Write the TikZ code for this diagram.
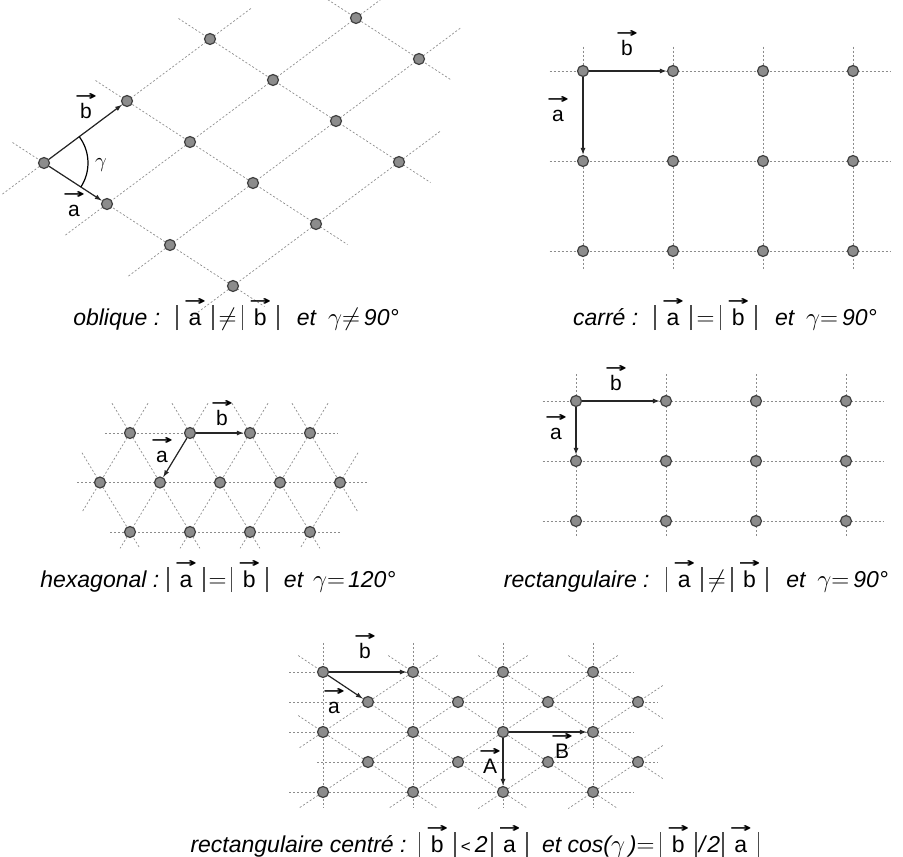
\documentclass[tikz,border=0pt]{standalone}
\usepackage{amsmath}
\usepackage{fontspec}
\setmainfont{Liberation Sans}
\newfontfamily\arrowfont{DejaVu Sans}
\usetikzlibrary{positioning,arrows.meta}

\newcommand{\vecarrow}{\raisebox{-2pt}{\scalebox{2}[1]{\fontsize{13}{13}\arrowfont\bfseries →}}}
\newcommand{\vecl}[1]{\ensuremath{\overset{\vecarrow}{\mbox{\upshape\vphantom{b}#1}}}}
\newcommand{\normbar}{\textcolor{black!70}{\vrule width 1.8pt height 20pt depth 5pt}}
\newcommand{\norml}[1]{\normbar\kern6pt\vecl{#1}\kern6pt\normbar}
\newcommand{\relsym}[1]{{\fontsize{30}{30}\selectfont$#1$}}

\begin{document}
\begin{tikzpicture}[x=1pt, y=-1pt,
  site/.style={circle, draw=black!75, fill=black!45, line width=1.2pt, minimum size=11pt, inner sep=0pt},
  latline/.style={draw=black!45, dash pattern=on 2pt off 2pt, line width=0.7pt},
  vecarr/.style={-{Latex[length=7pt,width=5pt]}, line width=1.2pt, draw=black!85},
  lab/.style={font=\fontsize{21}{24}\selectfont, inner sep=0pt},
  capt/.style={font=\fontsize{23}{26}\selectfont\itshape, inner sep=0pt}]
\useasboundingbox (0,0) rectangle (903,857);

% oblique
\begin{scope}[shift={(44,163)}, x={(63pt,-41pt)}, y={(83pt,62pt)}]
  \foreach \j in {0,1,2} \draw[latline] (-0.5,\j) -- (3.5,\j);
  \draw[latline] (0.5,3) -- (2.5,3);
  \foreach \i/\t in {0/2.5,1/3.5,2/3.5,3/2.5} \draw[latline] (\i,-0.5) -- (\i,\t);
  \foreach \i/\j in {0/0,1/0,2/0,3/0,0/1,1/1,2/1,3/1,0/2,1/2,2/2,3/2,1/3,2/3}
    \node[site] (ob-\i-\j) at (\i,\j) {};
\end{scope}
\draw[vecarr] (ob-0-0) -- (ob-1-0);
\draw[vecarr] (ob-0-0) -- (ob-0-1);
\draw[line width=1.2pt] (ob-0-0.center) ++(-37:44) arc (-37:33:44);
\node[lab] (ob-la) at (74,203) {\vecl{a}};
\node[lab] (ob-lb) at (86,105) {\vecl{b}};
\node[lab] (ob-lg) at (101,165) {$\gamma$};
\node[capt] (cap-ob) at (236,313) {oblique :\hspace{16pt}\norml{a}\hspace{5pt}\relsym{\neq}\hspace{5pt}\norml{b}\hspace{18pt}et\hspace{12pt}$\gamma$\relsym{\neq}\hspace{4pt}90°};

% carre
\begin{scope}[shift={(583,71)}, x={(90pt,0pt)}, y={(0pt,-90pt)}]
  \foreach \j in {0,1,2} \draw[latline] (-0.37,\j) -- (3.42,\j);
  \foreach \i in {0,...,3} \draw[latline] (\i,-0.27) -- (\i,2.2);
  \foreach \i in {0,...,3} \foreach \j in {0,1,2}
    \node[site] (sq-\i-\j) at (\i,\j) {};
\end{scope}
\draw[vecarr] (sq-0-0) -- (sq-1-0);
\draw[vecarr] (sq-0-0) -- (sq-0-1);
\node[lab] (sq-la) at (558,108) {\vecl{a}};
\node[lab] (sq-lb) at (627,42) {\vecl{b}};
\node[capt] (cap-sq) at (725,313) {carré :\hspace{16pt}\norml{a}\hspace{5pt}\relsym{=}\hspace{5pt}\norml{b}\hspace{18pt}et\hspace{12pt}$\gamma$\relsym{=}\hspace{4pt}90°};

% hexagonal
\begin{scope}[shift={(130,433)}, x={(60pt,0pt)}, y={(0pt,-49.5pt)}]
  \draw[latline] (-0.42,0) -- (3.47,0);
  \draw[latline] (-0.88,1) -- (3.97,1);
  \draw[latline] (-0.33,2) -- (3.53,2);
  \foreach \c/\ta/\tb in {-1/0.4/2.33, 0/-0.6/2.33, 1/-0.6/2.33, 2/-0.6/2.33, 3/-0.6/1.6}
    \draw[latline] ({\c+0.5*\ta},\ta) -- ({\c+0.5*\tb},\tb);
  \foreach \c/\ta/\tb in {0/-0.6/1.6, 1/-0.6/2.33, 2/-0.6/2.33, 3/-0.6/2.33, 4/0.4/2.33}
    \draw[latline] ({\c-0.5*\ta},\ta) -- ({\c-0.5*\tb},\tb);
  \foreach \k in {0,...,3} {
    \node[site] (hx-\k-0) at (\k,0) {};
    \node[site] (hx-\k-2) at (\k,2) {};
  }
  \foreach \k in {0,...,4} \node[site] (hx-\k-1) at (\k-0.5,1) {};
\end{scope}
\draw[vecarr] (hx-1-0) -- (hx-1-1);
\draw[vecarr] (hx-1-0) -- (hx-2-0);
\node[lab] (hx-la) at (162,449) {\vecl{a}};
\node[lab] (hx-lb) at (222,412) {\vecl{b}};
\node[capt] (cap-hx) at (218,575) {hexagonal :\hspace{8pt}\norml{a}\hspace{4pt}\relsym{=}\hspace{4pt}\norml{b}\hspace{16pt}et\hspace{10pt}$\gamma$\relsym{=}\hspace{3pt}120°};

% rectangulaire
\begin{scope}[shift={(576,401)}, x={(90pt,0pt)}, y={(0pt,-60pt)}]
  \foreach \j in {0,1,2} \draw[latline] (-0.37,\j) -- (3.41,\j);
  \foreach \i in {0,...,3} \draw[latline] (\i,-0.45) -- (\i,2.27);
  \foreach \i in {0,...,3} \foreach \j in {0,1,2}
    \node[site] (re-\i-\j) at (\i,\j) {};
\end{scope}
\draw[vecarr] (re-0-0) -- (re-1-0);
\draw[vecarr] (re-0-0) -- (re-0-1);
\node[lab] (re-la) at (556,426) {\vecl{a}};
\node[lab] (re-lb) at (616,377) {\vecl{b}};
\node[capt] (cap-re) at (696,575) {rectangulaire :\hspace{16pt}\norml{a}\hspace{5pt}\relsym{\neq}\hspace{5pt}\norml{b}\hspace{18pt}et\hspace{12pt}$\gamma$\relsym{=}\hspace{4pt}90°};

% rectangulaire centre
\begin{scope}[shift={(323,672)}, x={(45pt,0pt)}, y={(0pt,-30pt)}]
  \foreach \m/\s/\e in {0/-0.75/6.9, 1/-0.75/7.45, 2/-0.75/6.9, 3/-0.13/7.45, 4/-0.75/6.9}
    \draw[latline] (\s,\m) -- (\e,\m);
  \foreach \k in {0,2,4,6} \draw[latline] (\k,-0.97) -- (\k,4.5);
  \foreach \c/\ta/\tb in {-2/1.45/4.55, 0/-0.55/4.55, 2/-0.55/4.55, 4/-0.55/3.55, 6/-0.55/1.55}
    \draw[latline] ({\c+\ta},\ta) -- ({\c+\tb},\tb);
  \foreach \c/\ta/\tb in {2/-0.55/2.55, 4/-0.55/4.55, 6/-0.55/4.55, 8/0.45/4.55, 10/2.45/4.55}
    \draw[latline] ({\c-\ta},\ta) -- ({\c-\tb},\tb);
  \foreach \m in {0,2,4} \foreach \k in {0,2,4,6}
    \node[site] (rc-\k-\m) at (\k,\m) {};
  \foreach \m in {1,3} \foreach \k in {1,3,5,7}
    \node[site] (rc-\k-\m) at (\k,\m) {};
\end{scope}
\draw[vecarr] (rc-0-0) -- (rc-2-0);
\draw[vecarr] (rc-0-0) -- (rc-1-1);
\draw[vecarr] (rc-4-2) -- (rc-6-2);
\draw[vecarr] (rc-4-2) -- (rc-4-4);
\node[lab] (rc-la) at (334,700) {\vecl{a}};
\node[lab] (rc-lb) at (365,645) {\vecl{b}};
\node[lab] (rc-lA) at (490,760) {\vecl{A}};
\node[lab] (rc-lB) at (562,745) {\vecl{B}};
\node[capt] (cap-rc) at (475,840) {rectangulaire centré :\hspace{12pt}\norml{b}\hspace{5pt}{\upshape\fontsize{17}{17}\selectfont<}\hspace{4pt}2\hspace{3pt}\norml{a}\hspace{14pt}et cos($\gamma$\,)\relsym{=}\hspace{5pt}\norml{b}\hspace{2pt}/\hspace{2pt}2\hspace{2pt}\norml{a}};
\end{tikzpicture}
\end{document}
